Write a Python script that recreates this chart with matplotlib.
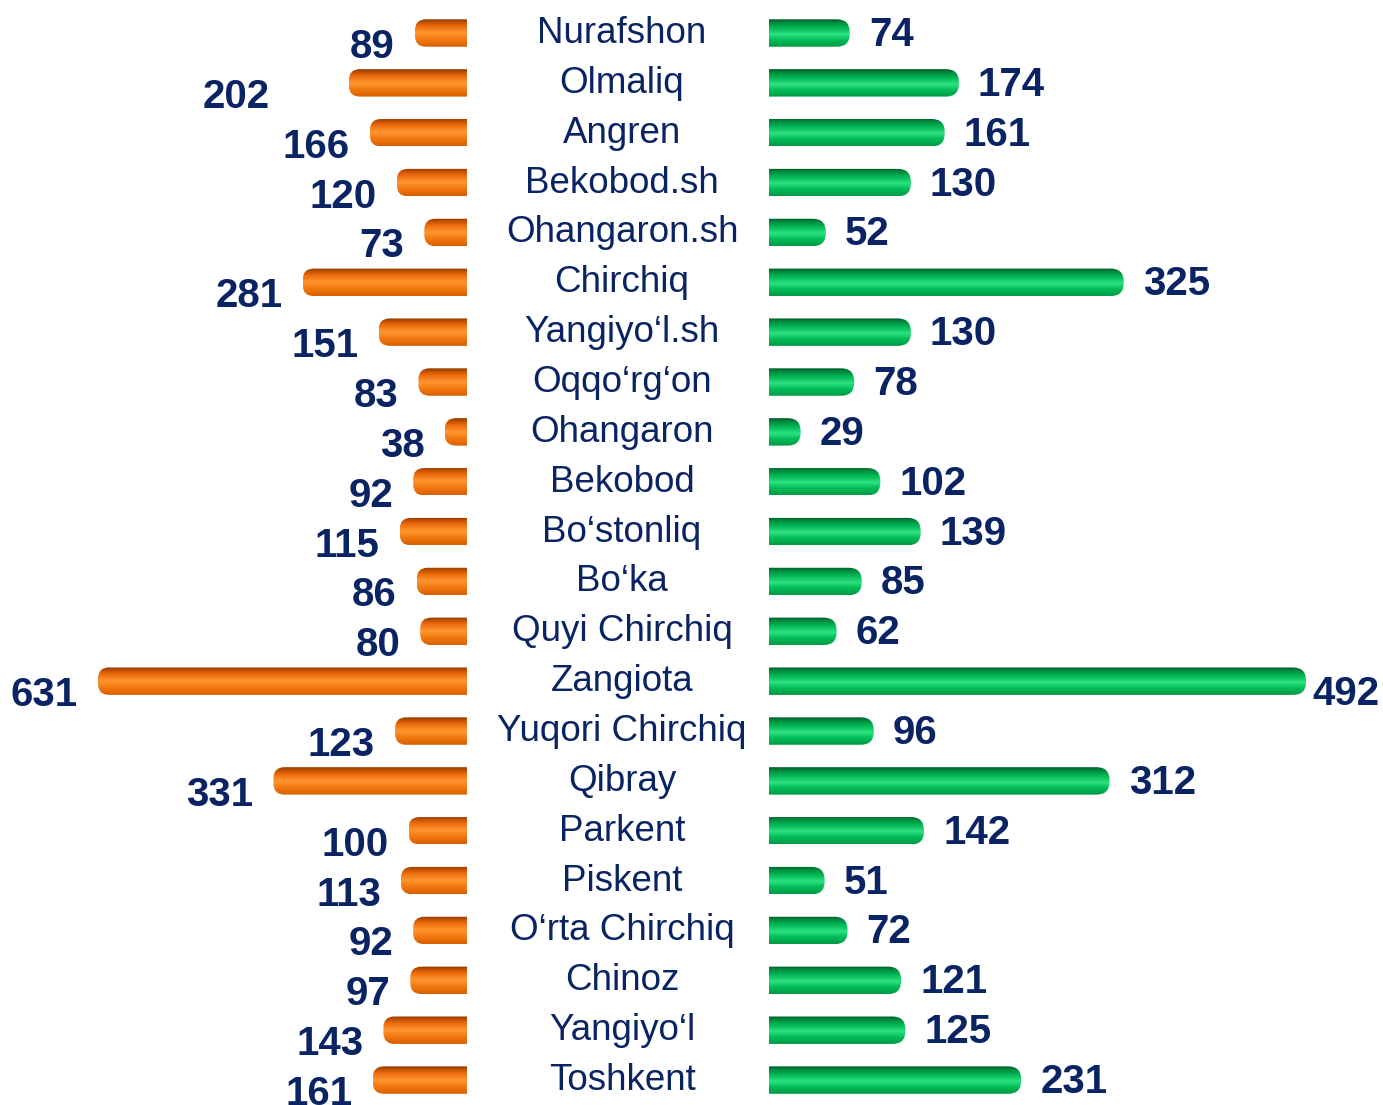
import numpy as np
import matplotlib
matplotlib.use("Agg")
import matplotlib.pyplot as plt
from matplotlib.patches import FancyBboxPatch
from matplotlib.colors import to_rgb

categories = ["Nurafshon", "Olmaliq", "Angren", "Bekobod.sh", "Ohangaron.sh",
              "Chirchiq", "Yangiyo‘l.sh", "Oqqo‘rg‘on", "Ohangaron", "Bekobod",
              "Bo‘stonliq", "Bo‘ka", "Quyi Chirchiq", "Zangiota", "Yuqori Chirchiq",
              "Qibray", "Parkent", "Piskent", "O‘rta Chirchiq", "Chinoz",
              "Yangiyo‘l", "Toshkent"]
left_values = [89, 202, 166, 120, 73, 281, 151, 83, 38, 92, 115, 86, 80, 631,
               123, 331, 100, 113, 92, 97, 143, 161]
right_values = [74, 174, 161, 130, 52, 325, 130, 78, 29, 102, 139, 85, 62, 492,
                96, 312, 142, 51, 72, 121, 125, 231]

W, H = 1383, 1105
DPI = 100
fig = plt.figure(figsize=(W / DPI, H / DPI), dpi=DPI)

NAVY = "#0a2463"
n = len(categories)
ypos = np.arange(n)
ylim = (21.50, -0.662)
bar_h = 0.55

axL = fig.add_axes([0, 0, 467 / W, 1])
axR = fig.add_axes([769 / W, 0, (W - 769) / W, 1])
axM = fig.add_axes([467 / W, 0, (769 - 467) / W, 1])
axL.set_xlim(798.6, 0)
axR.set_xlim(0, 562.5)
axM.set_xlim(0, 1)
for ax in (axL, axR, axM):
    ax.set_ylim(*ylim)
    ax.axis("off")


def gradient(stops, nrows=80):
    pos = np.array([s[0] for s in stops])
    cols = np.array([to_rgb(s[1]) for s in stops])
    t = np.linspace(0, 1, nrows)
    g = np.stack([np.interp(t, pos, cols[:, k]) for k in range(3)], axis=1)
    return g[:, None, :]


orange_grad = gradient([(0.0, "#8c3a00"), (0.12, "#c65200"), (0.28, "#f07010"),
                        (0.50, "#ff9630"), (0.72, "#f37a12"), (1.0, "#d85f00")])
green_grad = gradient([(0.0, "#00582a"), (0.12, "#008a3c"), (0.30, "#00b455"),
                       (0.55, "#2ee27e"), (0.75, "#00bc58"), (1.0, "#009a45")])


def px_per_unit(ax):
    a = ax.transData.transform((0, 0))
    b = ax.transData.transform((1, 1))
    return abs(b[0] - a[0]), abs(b[1] - a[1])


def fancy_bars(ax, values, grad, r_px):
    rects = ax.barh(ypos, values, height=bar_h, color="none", linewidth=0)
    sx, sy = px_per_unit(ax)
    rx, ry = r_px / sx, r_px / sy
    for rect in rects:
        x0, w = rect.get_x(), rect.get_width()
        y0, h = rect.get_y(), rect.get_height()
        patch = FancyBboxPatch((x0 - rx, y0), w + rx, h,
                               boxstyle=f"round,pad=0,rounding_size={rx}",
                               mutation_aspect=ry / rx,
                               facecolor="none", edgecolor="none")
        ax.add_patch(patch)
        im = ax.imshow(grad, extent=(x0 - rx, x0 + w, y0 + h, y0),
                       aspect="auto", interpolation="bilinear", zorder=2)
        im.set_clip_path(patch)
    return rects


fancy_bars(axL, left_values, orange_grad, 11)
fancy_bars(axR, right_values, green_grad, 13)
axL.set_xlim(798.6, 0)
axR.set_xlim(0, 562.5)
for ax in (axL, axR):
    ax.set_ylim(*ylim)

val_font = dict(family="Liberation Sans", fontsize=29, fontweight="bold", color=NAVY)
cat_font = dict(family="Liberation Sans", fontsize=26.5, color=NAVY)

# extra horizontal nudge (pixels) for a left label placed further out in the original
left_label_nudge = {1: -59}

for i, v in enumerate(left_values):
    dx = -20 + left_label_nudge.get(i, 0)
    axL.annotate(str(v), xy=(v, i), xytext=(dx, -25), textcoords="offset pixels",
                 ha="right", va="baseline", annotation_clip=False, **val_font)

sxR, _ = px_per_unit(axR)
for i, v in enumerate(right_values):
    end_px = 769 + v * sxR
    est_w = len(str(v)) * 0.556 * 29 * DPI / 72
    if end_px + 19 + est_w > W:
        off = (6, -24)
    else:
        off = (19, -13)
    axR.annotate(str(v), xy=(v, i), xytext=off, textcoords="offset pixels",
                 ha="left", va="baseline", annotation_clip=False, **val_font)

cx = (622 - 467) / (769 - 467)
for i, c in enumerate(categories):
    axM.annotate(c, xy=(cx, i), xytext=(0, -10), textcoords="offset pixels",
                 ha="center", va="baseline", **cat_font)

fig.savefig("out.png", dpi=DPI)
